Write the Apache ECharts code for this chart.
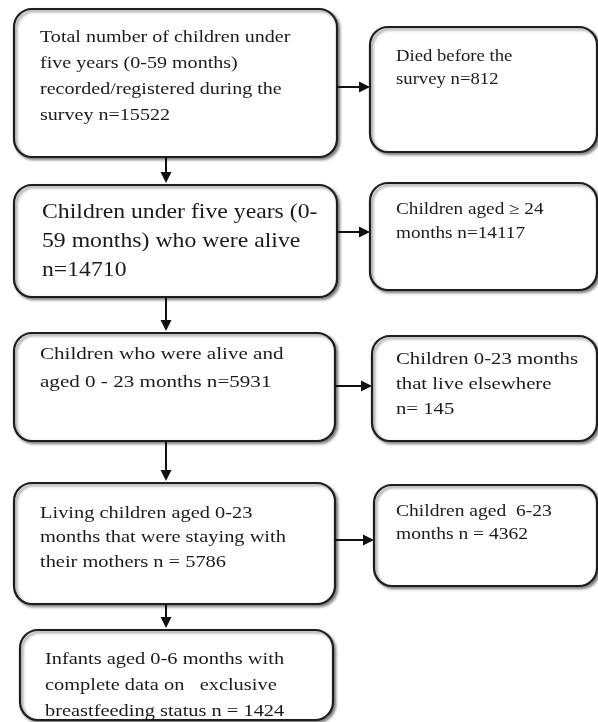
<!DOCTYPE html>
<html><head><meta charset="utf-8">
<script src="https://cdn.jsdelivr.net/npm/echarts@6/dist/echarts.min.js"></script>
<style>html,body{margin:0;padding:0;background:#fff}#c{width:598px;height:722px}</style>
</head><body><div id="c"></div>
<script>
// ---- content ----
const mainText = [
  'Total number of children under\nfive years (0-59 months)\nrecorded/registered during the\nsurvey n={n}',
  'Children under five years (0-\n59 months) who were alive\nn={n}',
  'Children who were alive and\naged 0 - 23 months n={n}',
  'Living children aged 0-23\nmonths that were staying with\ntheir mothers n = {n}',
  'Infants aged 0-6 months with\ncomplete data on   exclusive\nbreastfeeding status n = {n}'
];
const mainN = [15522, 14710, 5931, 5786, 1424];
const sideText = [
  'Died before the\nsurvey n={n}',
  'Children aged \u2265 24\nmonths n={n}',
  'Children 0-23 months\nthat live elsewhere\nn= {n}',
  'Children aged  6-23\nmonths n = {n}'
];
const sideN = [812, 14117, 145, 4362];

// ---- layout (pixels on a 598 x 722 canvas) ----
const mainRect = [[14,9,337,157],[14,185,337,297],[14,333,335,441],[14,483,335,604],[20,630,333,720]];
// [textX, textY, fontSize, lineHeight, horizontal stretch]
const mainTextAt = [[40,25,17,26,1.18],[42,198,21,29,1.13],[40,341,17,28,1.24],[40,501,17,24.5,1.2],[45,647,17,26,1.2]];
const sideRect = [[370,27,597,152],[370,183,597,290],[372,336,597,441],[374,485,597,586]];
const sideTextAt = [[396,45,17,23,1.1],[396,198,16,24,1.2],[396,347,17,25,1.22],[396,500,17,23,1.15]];
const arrows = [
  [166,157,166,183],[166,297,166,331],[166,441,166,481],[166,604,166,628],
  [337,87,370,87],[337,232,370,232],[335,386,372,386],[335,540,374,540]
];

const boxes = [];
mainRect.forEach((r,i)=>boxes.push({value:[...r, ...mainTextAt[i]], label: mainText[i].replace('{n}', mainN[i])}));
sideRect.forEach((r,i)=>boxes.push({value:[...r, ...sideTextAt[i]], label: sideText[i].replace('{n}', sideN[i])}));

const FONT = '"Liberation Serif","DejaVu Serif",serif';
const chart = echarts.init(document.getElementById('c'));
chart.setOption({
  animation: false,
  backgroundColor: '#fff',
  grid: {left:0, right:0, top:0, bottom:0},
  xAxis: {type:'value', min:0, max:598, show:false},
  yAxis: {type:'value', min:0, max:722, inverse:true, show:false},
  series: [
    {
      type: 'custom', clip: false, silent: true,
      data: boxes,
      renderItem: function(params, api){
        const d = boxes[params.dataIndex];
        const v = d.value;
        const p0 = api.coord([v[0], v[1]]);
        const p1 = api.coord([v[2], v[3]]);
        const t = api.coord([v[4], v[5]]);
        return {
          type: 'group',
          children: [
            {type:'rect', shape:{x:p0[0], y:p0[1], width:p1[0]-p0[0], height:p1[1]-p0[1], r:18},
             style:{fill:'#fff', stroke:'#1e1e1e', lineWidth:2.2, shadowBlur:3, shadowOffsetX:2, shadowOffsetY:2, shadowColor:'rgba(0,0,0,0.45)'}},
            {type:'text', x:t[0], y:t[1], scaleX:v[8], scaleY:1,
             style:{text:d.label, x:0, y:0, fill:'#1a1a1a',
              fontFamily: FONT, fontSize: v[6], lineHeight: v[7], verticalAlign:'top', align:'left'}}
          ]
        };
      }
    },
    {
      type: 'custom', clip: false, silent: true,
      data: arrows,
      renderItem: function(params, api){
        const a = arrows[params.dataIndex];
        const s = api.coord([a[0], a[1]]);
        const e = api.coord([a[2], a[3]]);
        const dx = e[0]-s[0], dy = e[1]-s[1];
        const len = Math.hypot(dx, dy);
        const ux = dx/len, uy = dy/len;
        const hl = 11, hw = 5.5;
        const bx = e[0]-ux*hl, by = e[1]-uy*hl;
        return {
          type:'group',
          children:[
            {type:'line', shape:{x1:s[0], y1:s[1], x2:bx, y2:by}, style:{stroke:'#111', lineWidth:2}},
            {type:'polygon', shape:{points:[[e[0],e[1]],[bx-uy*hw, by+ux*hw],[bx+uy*hw, by-ux*hw]]}, style:{fill:'#111'}}
          ]
        };
      }
    }
  ]
});
</script></body></html>
